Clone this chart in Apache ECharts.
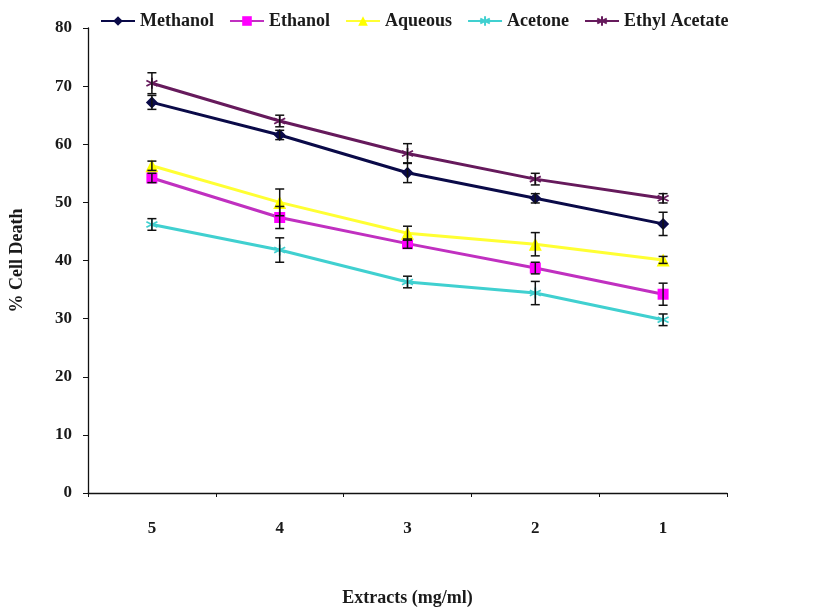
<!DOCTYPE html>
<html><head><meta charset="utf-8">
<script src="https://cdn.jsdelivr.net/npm/echarts@6/dist/echarts.min.js"></script>
<style>html,body{margin:0;padding:0;background:#fff}#c{width:827px;height:608px}</style>
</head><body><div id="c"></div>
<script>
const categories = ['5', '4', '3', '2', '1'];
const yTicks = [0, 10, 20, 30, 40, 50, 60, 70, 80];
const methanol = [67.2, 61.6, 55.1, 50.7, 46.3];
const ethanol = [54.2, 47.4, 42.9, 38.7, 34.2];
const aqueous = [56.3, 50.0, 44.7, 42.8, 40.1];
const acetone = [46.2, 41.8, 36.3, 34.4, 29.8];
const ethylAcetate = [70.5, 64.0, 58.4, 54.0, 50.7];
const methanolErr = [1.2, 0.8, 1.7, 0.8, 2.0];
const ethanolErr = [0.8, 1.9, 0.8, 1.0, 1.9];
const aqueousErr = [0.8, 2.3, 1.2, 2.0, 0.6];
const acetoneErr = [1.0, 2.1, 1.0, 2.0, 1.0];
const ethylAcetateErr = [1.8, 1.0, 1.7, 1.0, 0.8];

const star = 'path://M0,-10L0,10M-8.7,-5L8.7,5M-8.7,5L8.7,-5';
const font = 'Liberation Serif';

const defs = [
  {name: 'Methanol', data: methanol, err: methanolErr, color: '#0a0a48', symbol: 'diamond', size: 12},
  {name: 'Ethanol', data: ethanol, err: ethanolErr, color: '#c030c0', mcolor: '#ff00ff', symbol: 'rect', size: 11},
  {name: 'Aqueous', data: aqueous, err: aqueousErr, color: '#ffff33', mcolor: '#ffff00', symbol: 'triangle', size: 13},
  {name: 'Acetone', data: acetone, err: acetoneErr, color: '#40d0d0', symbol: star, size: 11, stroke: true},
  {name: 'Ethyl Acetate', data: ethylAcetate, err: ethylAcetateErr, color: '#661a5c', symbol: star, size: 11, stroke: true}
];

const series = [];
defs.forEach(d => {
  series.push({
    name: d.name, type: 'line', data: d.data,
    symbol: d.symbol, symbolSize: d.size,
    lineStyle: {color: d.color, width: 3},
    itemStyle: d.stroke ? {color: d.color, borderColor: d.color, borderWidth: 1.8}
                        : {color: d.mcolor || d.color, borderWidth: 0},
    z: 2
  });
});
defs.forEach(d => {
  const ed = d.data.map((v, i) => [i, v - d.err[i], v + d.err[i]]);
  series.push({
    type: 'custom', name: d.name + ' err', data: ed, z: 5, silent: true,
    encode: {x: 0, y: [1, 2]},
    renderItem: function (params, api) {
      const lo = api.coord([api.value(0), api.value(1)]);
      const hi = api.coord([api.value(0), api.value(2)]);
      const w = 4.5;
      const st = {stroke: '#111', lineWidth: 1.5};
      return {type: 'group', children: [
        {type: 'line', shape: {x1: lo[0], y1: lo[1], x2: hi[0], y2: hi[1]}, style: st},
        {type: 'line', shape: {x1: lo[0] - w, y1: lo[1], x2: lo[0] + w, y2: lo[1]}, style: st},
        {type: 'line', shape: {x1: hi[0] - w, y1: hi[1], x2: hi[0] + w, y2: hi[1]}, style: st}
      ]};
    }
  });
});

const chart = echarts.init(document.getElementById('c'));
chart.setOption({
  backgroundColor: '#fff',
  animation: false,
  legend: {
    data: defs.map(d => d.name),
    top: 7, left: 95,
    itemWidth: 34, itemHeight: 12, itemGap: 15,
    textStyle: {fontFamily: font, fontWeight: 'bold', fontSize: 18, color: '#1a1a1a'}
  },
  grid: {left: 88, right: 100, top: 28, bottom: 115, containLabel: false, outerBoundsMode: 'none'},
  xAxis: {
    type: 'category', data: categories, boundaryGap: true,
    name: 'Extracts (mg/ml)', nameLocation: 'middle', nameGap: 96,
    nameTextStyle: {fontFamily: font, fontWeight: 'bold', fontSize: 18, color: '#1a1a1a'},
    axisLine: {lineStyle: {color: '#111', width: 1.3}},
    axisTick: {show: true, length: 4, inside: false, lineStyle: {color: '#111'}},
    axisLabel: {fontFamily: font, fontWeight: 'bold', fontSize: 17, color: '#1a1a1a', margin: 27},
    splitLine: {show: false}
  },
  yAxis: {
    type: 'value', min: yTicks[0], max: yTicks[yTicks.length - 1], interval: 10,
    name: '% Cell Death', nameLocation: 'middle', nameGap: 62, nameRotate: 90,
    nameTextStyle: {fontFamily: font, fontWeight: 'bold', fontSize: 18, color: '#1a1a1a'},
    axisLine: {show: true, lineStyle: {color: '#111', width: 1.3}},
    axisTick: {show: true, length: 5, lineStyle: {color: '#111'}},
    axisLabel: {fontFamily: font, fontWeight: 'bold', fontSize: 17, color: '#1a1a1a', margin: 16},
    splitLine: {show: false}
  },
  series: series
});
</script>
</body></html>
